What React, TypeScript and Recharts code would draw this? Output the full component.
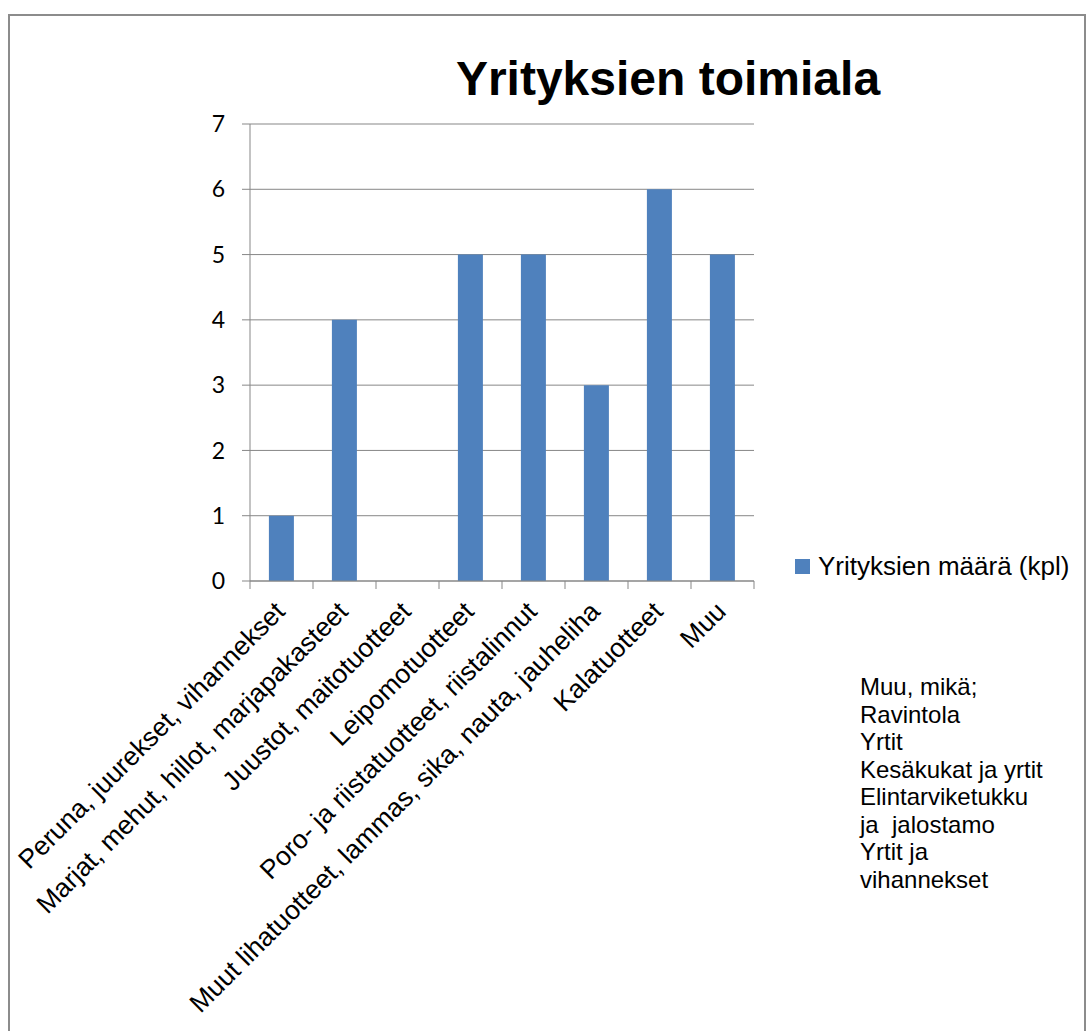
import React from 'react';
import { BarChart, Bar, XAxis, YAxis, CartesianGrid, Legend } from 'recharts';

const categories = [
  'Peruna, juurekset, vihannekset',
  'Marjat, mehut, hillot, marjapakasteet',
  'Juustot, maitotuotteet',
  'Leipomotuotteet',
  'Poro- ja riistatuotteet, riistalinnut',
  'Muut lihatuotteet, lammas, sika, nauta, jauheliha',
  'Kalatuotteet',
  'Muu',
];
const counts = [1, 4, 0, 5, 5, 3, 6, 5];
const yTicks = [0, 1, 2, 3, 4, 5, 6, 7];
const seriesName = 'Yrityksien määrä (kpl)';
const chartTitle = 'Yrityksien toimiala';
const noteLines = [
  'Muu, mikä;',
  'Ravintola',
  'Yrtit',
  'Kesäkukat ja yrtit',
  'Elintarviketukku',
  'ja  jalostamo',
  'Yrtit ja',
  'vihannekset',
];

const data = categories.map((c, i) => ({ name: c, value: counts[i] }));

const BLUE = '#4f81bd';
const GRID = '#878787';
const ARIAL = '"Liberation Sans", Arial, sans-serif';

const CatTick = (props: any) => {
  const { x, y, payload, index } = props;
  const off = payload && typeof payload.offset === 'number' && payload.offset > 0 ? payload.offset : 31.5;
  const ay = y - 8;
  const tx = x + 5;
  const ty = ay + 32;
  return (
    <g>
      <line x1={x - off} y1={ay} x2={x - off} y2={ay + 8} stroke={GRID} strokeWidth={1} />
      {index === categories.length - 1 && (
        <line x1={x + off} y1={ay} x2={x + off} y2={ay + 8} stroke={GRID} strokeWidth={1} />
      )}
      <text
        x={tx}
        y={ty}
        textAnchor="end"
        transform={`rotate(-45, ${tx}, ${ty})`}
        fontFamily={ARIAL}
        fontSize={26.5}
        fill="#000"
      >
        {payload.value}
      </text>
    </g>
  );
};

const LegendContent = () => (
  <div
    style={{
      display: 'flex',
      alignItems: 'center',
      fontFamily: ARIAL,
      fontSize: 26,
      whiteSpace: 'nowrap',
      color: '#000',
    }}
  >
    <span style={{ display: 'inline-block', width: 15, height: 15, background: BLUE, marginRight: 8 }} />
    {seriesName}
  </div>
);

export default function App() {
  return (
    <div
      style={{
        position: 'absolute',
        left: 0,
        top: 0,
        width: 1087,
        height: 1031,
        overflow: 'hidden',
        background: '#fff',
      }}
    >
      <svg width={1087} height={1031} style={{ position: 'absolute', left: 0, top: 0 }}>
        <rect x={9} y={15} width={1076} height={1100} fill="none" stroke="#8c8c8c" strokeWidth={2} />
        <text x={668} y={95} textAnchor="middle" fontFamily={ARIAL} fontWeight="bold" fontSize={48} fill="#000">
          {chartTitle}
        </text>
        {noteLines.map((l, i) => (
          <text
            key={i}
            x={860}
            y={695 + i * 27.5}
            fontFamily={ARIAL}
            fontSize={24}
            fill="#000"
            style={{ whiteSpace: 'pre' }}
          >
            {l}
          </text>
        ))}
      </svg>
      <div style={{ position: 'absolute', left: 0, top: 0 }}>
        <BarChart
          width={1087}
          height={1031}
          data={data}
          margin={{ top: 124, right: 333, left: 150, bottom: 350 }}
          barCategoryGap="30%"
        >
          <CartesianGrid horizontal vertical={false} stroke={GRID} strokeWidth={1} />
          <XAxis
            dataKey="name"
            height={100}
            interval={0}
            tickSize={8}
            tickMargin={0}
            tickLine={false}
            axisLine={{ stroke: GRID, strokeWidth: 1 }}
            tick={<CatTick />}
          />
          <YAxis
            width={100}
            domain={[0, 7]}
            ticks={yTicks}
            interval={0}
            tickSize={8}
            tickMargin={17}
            tickLine={{ stroke: GRID, strokeWidth: 1 }}
            axisLine={{ stroke: GRID, strokeWidth: 1 }}
            tick={{ fontFamily: 'Lato, "Open Sans", sans-serif', fontSize: 23, fill: '#000' }}
          />
          <Legend
            layout="vertical"
            align="center"
            verticalAlign="middle"
            wrapperStyle={{ position: 'absolute', left: 795, top: 551, width: 290 }}
            content={<LegendContent />}
          />
          <Bar dataKey="value" name={seriesName} fill={BLUE} isAnimationActive={false} />
        </BarChart>
      </div>
    </div>
  );
}
